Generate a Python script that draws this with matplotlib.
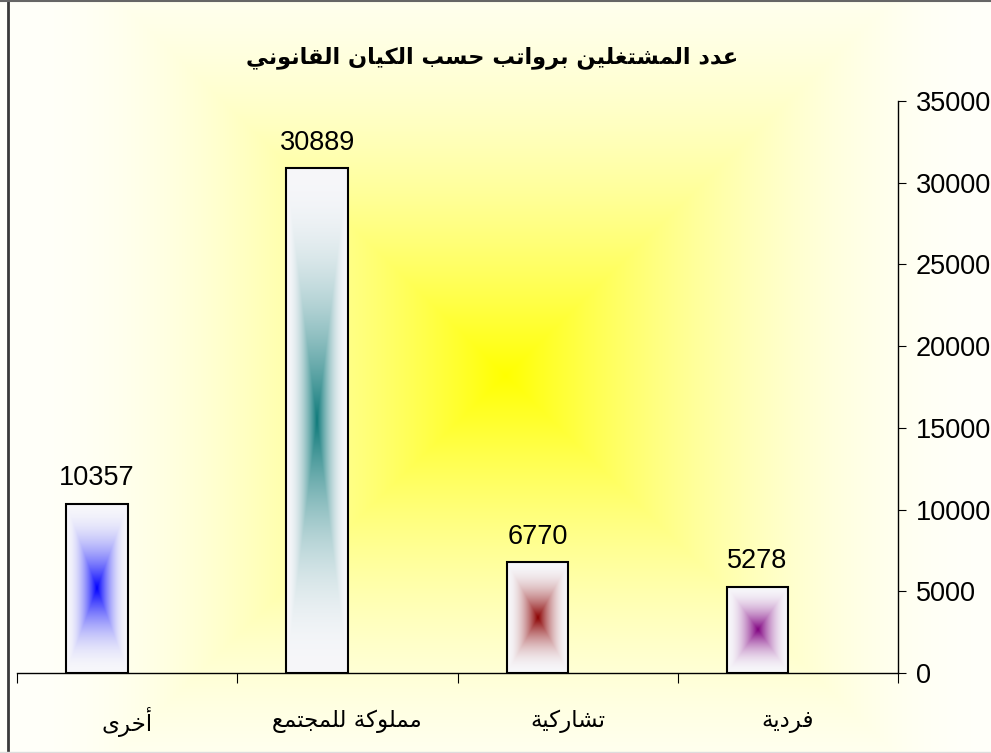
import numpy as np
import matplotlib
matplotlib.use("Agg")
import matplotlib.pyplot as plt
from matplotlib.lines import Line2D

# Data
categories = ["أخرى", "مملوكة للمجتمع", "تشاركية", "فردية"]
values = [10357, 30889, 6770, 5278]
bar_colors = ["#0000FF", "#0E7A7A", "#8B0000", "#800080"]
title = "عدد المشتغلين برواتب حسب الكيان القانوني"
yticks = [0, 5000, 10000, 15000, 20000, 25000, 30000, 35000]

# matplotlib has no Arabic shaping: pick presentation forms and reverse
FORMS = {
    'ا': ('\uFE8D', '\uFE8E'), 'أ': ('\uFE83', '\uFE84'),
    'ب': ('\uFE8F', '\uFE90', '\uFE91', '\uFE92'), 'ة': ('\uFE93', '\uFE94'),
    'ت': ('\uFE95', '\uFE96', '\uFE97', '\uFE98'),
    'ج': ('\uFE9D', '\uFE9E', '\uFE9F', '\uFEA0'),
    'ح': ('\uFEA1', '\uFEA2', '\uFEA3', '\uFEA4'),
    'خ': ('\uFEA5', '\uFEA6', '\uFEA7', '\uFEA8'),
    'د': ('\uFEA9', '\uFEAA'), 'ر': ('\uFEAD', '\uFEAE'),
    'س': ('\uFEB1', '\uFEB2', '\uFEB3', '\uFEB4'),
    'ش': ('\uFEB5', '\uFEB6', '\uFEB7', '\uFEB8'),
    'ع': ('\uFEC9', '\uFECA', '\uFECB', '\uFECC'),
    'غ': ('\uFECD', '\uFECE', '\uFECF', '\uFED0'),
    'ف': ('\uFED1', '\uFED2', '\uFED3', '\uFED4'),
    'ق': ('\uFED5', '\uFED6', '\uFED7', '\uFED8'),
    'ك': ('\uFED9', '\uFEDA', '\uFEDB', '\uFEDC'),
    'ل': ('\uFEDD', '\uFEDE', '\uFEDF', '\uFEE0'),
    'م': ('\uFEE1', '\uFEE2', '\uFEE3', '\uFEE4'),
    'ن': ('\uFEE5', '\uFEE6', '\uFEE7', '\uFEE8'),
    'و': ('\uFEED', '\uFEEE'), 'ى': ('\uFEEF', '\uFEF0'),
    'ي': ('\uFEF1', '\uFEF2', '\uFEF3', '\uFEF4'),
}


def shape(s):
    out = []
    for i, c in enumerate(s):
        if c not in FORMS:
            out.append(c)
            continue
        prev = s[i - 1] if i > 0 else None
        nxt = s[i + 1] if i + 1 < len(s) else None
        join_prev = prev in FORMS and len(FORMS[prev]) == 4
        join_next = nxt in FORMS and len(FORMS[c]) == 4
        f = FORMS[c]
        if join_prev and join_next:
            out.append(f[3])
        elif join_prev:
            out.append(f[1])
        elif join_next:
            out.append(f[2])
        else:
            out.append(f[0])
    return "".join(out)[::-1]


def center_gradient(color, edge, n=300, power=2):
    u = np.linspace(-1, 1, n)
    uu, vv = np.meshgrid(u, u)
    t = np.maximum(np.abs(uu), np.abs(vv))
    f = 1 - (1 - t) ** power
    c = np.array(matplotlib.colors.to_rgb(color))
    e = np.array(matplotlib.colors.to_rgb(edge))
    return c * (1 - f[..., None]) + e * f[..., None]


W, H = 991, 753
fig = plt.figure(figsize=(W / 100, H / 100), dpi=100)

# chart area background: yellow "from centre" gradient
bg = fig.add_axes([0, 0, 1, 1])
yy, xx = np.mgrid[0:H, 0:W]
t = np.maximum(np.abs(xx - 505) / 495, np.abs(yy - 375) / 480).clip(0, 1)
f = 1 - (1 - t) ** 2
img = np.array([1, 1, 0]) * (1 - f[..., None]) + np.array([1, 1, 0.98]) * f[..., None]
bg.imshow(img, aspect="auto", extent=[0, W, H, 0])
bg.set_xlim(0, W)
bg.set_ylim(H, 0)
bg.axis("off")

ax = fig.add_axes([17 / W, 80 / H, 881 / W, 572 / H])
ax.set_facecolor("none")

x = np.arange(len(categories)) + 0.5
bars = ax.bar(x - 0.1375, values, width=0.28, facecolor="none",
              edgecolor="black", linewidth=1.5, zorder=3)
for b, col in zip(bars, bar_colors):
    g = center_gradient(col, "#F7F7FA")
    im = ax.imshow(g, extent=[b.get_x(), b.get_x() + b.get_width(), 0, b.get_height()],
                   aspect="auto", zorder=2, interpolation="bilinear")
    im.set_clip_path(b)
    ax.annotate(str(int(b.get_height())), (b.get_x() + b.get_width() / 2, b.get_height()),
                xytext=(0, 9), textcoords="offset points", ha="center", va="bottom",
                fontsize=19.5, family="Liberation Sans")

ax.set_xlim(0, 4)
ax.set_ylim(0, 35000)
ax.set_yticks(yticks)
ax.yaxis.tick_right()
ax.tick_params(axis="y", direction="out", length=6, width=0.8, pad=7, labelsize=19.5)
for lab in ax.get_yticklabels():
    lab.set_family("Liberation Sans")
ax.set_xticks([0, 1, 2, 3, 4])
ax.set_xticklabels([])
ax.tick_params(axis="x", direction="out", length=7.2, width=0.8)
for sp in ["left", "top"]:
    ax.spines[sp].set_visible(False)
for sp in ["right", "bottom"]:
    ax.spines[sp].set_linewidth(1)

for xi, cat in zip(x, categories):
    ax.text(xi, -0.085, shape(cat), transform=ax.get_xaxis_transform(),
            ha="center", va="center", fontsize=16.5, family="DejaVu Sans")

fig.text(492 / W, 1 - 58 / H, shape(title), ha="center", va="center",
         fontsize=16.2, fontweight="bold", family="DejaVu Sans")

# chart area border
fig.add_artist(Line2D([8 / W, 8 / W], [0, 1], color="#3a3a3a", linewidth=2))
fig.add_artist(Line2D([0, 1], [1 - 1 / H, 1 - 1 / H], color="#666666", linewidth=1.5))
fig.add_artist(Line2D([0, 1], [1 / H, 1 / H], color="#dddddd", linewidth=1))

fig.savefig("out.png", dpi=100)
